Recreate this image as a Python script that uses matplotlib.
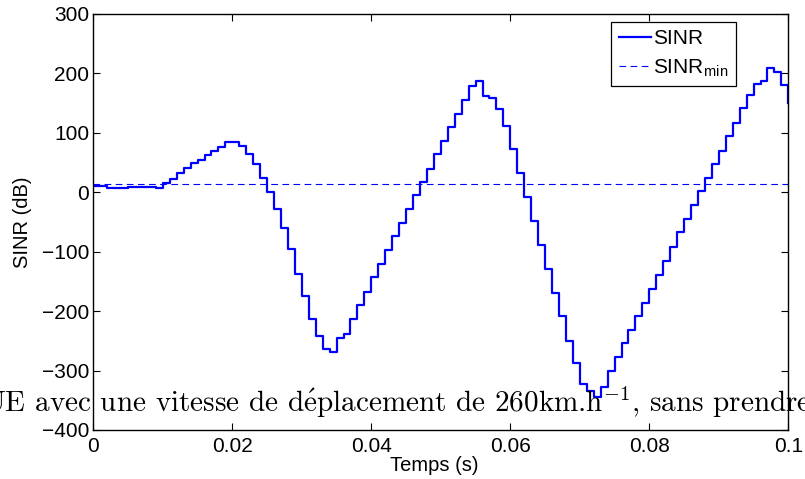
import numpy as np
import matplotlib
matplotlib.use("Agg")
import matplotlib.pyplot as plt

# SINR sampled every 1 ms (value held until next sample)
t = np.linspace(0, 0.1, 101)
sinr = [11, 10, 8, 8, 8, 9, 9, 9, 9, 8,
        15, 23, 33, 41, 49, 55, 62, 69, 76, 84,
        85, 78, 64, 47, 24, 0, -28, -60, -95, -137,
        -175, -213, -242, -263, -269, -246, -238, -214, -190, -167,
        -143, -121, -97, -74, -51, -28, -4, 18, 40, 64,
        86, 109, 132, 156, 179, 187, 162, 158, 140, 111,
        72, 32, -8, -48, -89, -129, -170, -209, -250, -288,
        -323, -334, -344, -328, -301, -278, -254, -232, -208, -186,
        -162, -139, -115, -92, -67, -45, -21, 2, 24, 47,
        70, 94, 117, 141, 164, 182, 187, 209, 202, 180,
        150]
sinr_min = 14

xticks = [0, 0.02, 0.04, 0.06, 0.08, 0.1]
xticklabels = ["0", "0.02", "0.04", "0.06", "0.08", "0.1"]
yticks = [-400, -300, -200, -100, 0, 100, 200, 300]

plt.rcParams['font.family'] = ['Liberation Sans', 'DejaVu Sans']
plt.rcParams['mathtext.fontset'] = 'cm'

fig = plt.figure(figsize=(8.05, 4.79), dpi=100)
ax = fig.add_axes([0.1159, 0.1023, 0.8634, 0.8685])

ax.step(t, sinr, where='post', color=(0, 0, 1), lw=1.6, label='SINR')
ax.axhline(sinr_min, color=(0, 0, 1), lw=0.8, ls=(0, (6, 4)), label=r'SINR$_{\mathregular{min}}$')

ax.set_xlim(0, 0.1)
ax.set_ylim(-400, 300)
ax.set_xticks(xticks)
ax.set_xticklabels(xticklabels)
ax.set_yticks(yticks)
ax.tick_params(direction='in', length=5, width=0.8, top=True, right=True, labelsize=15)
ax.tick_params(axis='x', pad=5)
ax.tick_params(axis='y', pad=3)
for s in ax.spines.values():
    s.set_linewidth(1.0)

ax.set_xlabel('Temps (s)', fontsize=14.5)
ax.xaxis.set_label_coords(0.491, -0.063)
ax.set_ylabel('SINR (dB)', fontsize=14.5, labelpad=7)

leg = ax.legend(loc='upper right', bbox_to_anchor=(0.9245, 0.981), fontsize=15,
                frameon=True, fancybox=False, edgecolor='black', framealpha=1,
                handlelength=1.55, handletextpad=0.1, borderpad=0.35, labelspacing=0.45,
                borderaxespad=0)
leg.get_frame().set_linewidth(0.9)

# text from the surrounding document that overlaps the figure
fig.text(-0.021, 0.1405, r"UE avec une vitesse de d$\acute{\mathrm{e}}$placement de 260km.h$^{-1}$, sans prendre",
         family=['cmr10', 'DejaVu Serif'], fontsize=21, ha='left', va='baseline', zorder=10)

fig.savefig('out.png', dpi=100)
